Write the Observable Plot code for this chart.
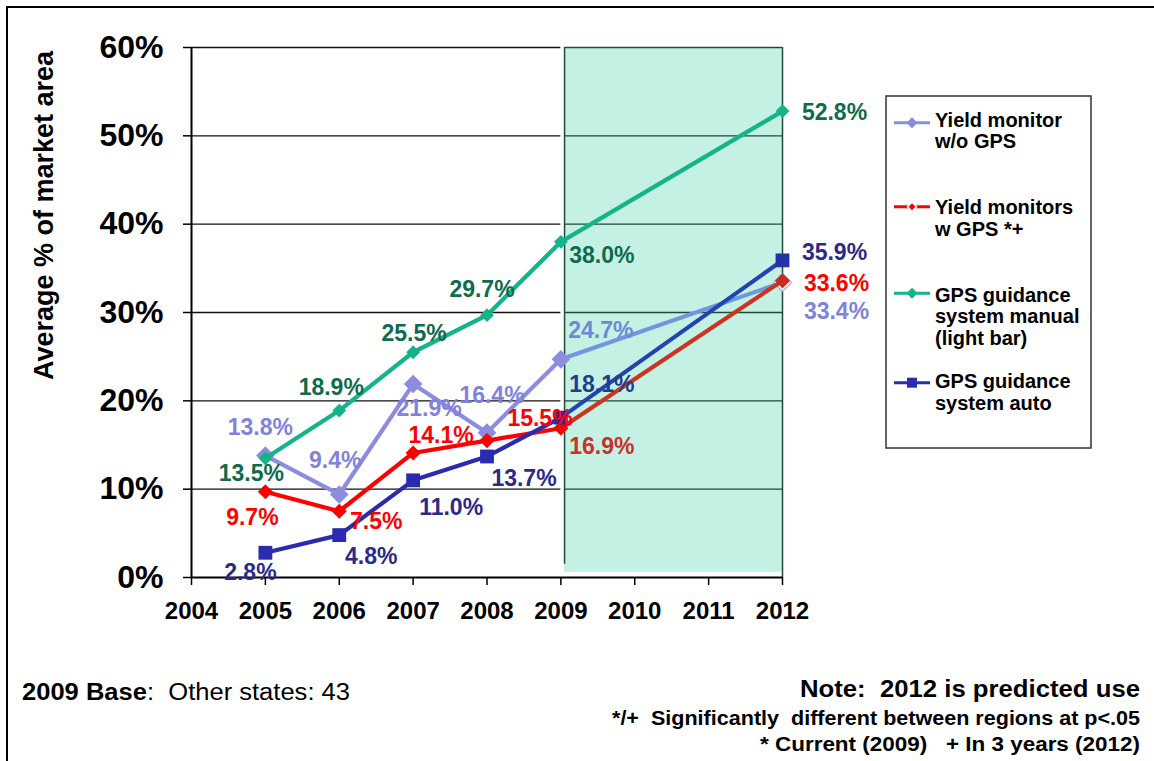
<!DOCTYPE html>
<html>
<head>
<meta charset="utf-8">
<script src="https://cdn.jsdelivr.net/npm/d3@7"></script>
<script src="https://cdn.jsdelivr.net/npm/@observablehq/plot@0.6"></script>
<style>
  html, body { margin: 0; padding: 0; background: #fff; }
  #chart { width: 1154px; height: 761px; overflow: hidden; }
  text { white-space: pre; }
</style>
</head>
<body>
<div id="chart"></div>
<script>
// ---------------- data ----------------
const years = [2005, 2006, 2007, 2008, 2009, 2012];
const xTicks = [2004, 2005, 2006, 2007, 2008, 2009, 2010, 2011, 2012];
const yTicks = [0, 10, 20, 30, 40, 50, 60];
const seriesNames = [
  "Yield monitor w/o GPS",
  "Yield monitors w GPS *+",
  "GPS guidance system manual (light bar)",
  "GPS guidance system auto"
];
const legendText = [
  ["Yield monitor", "w/o GPS"],
  ["Yield monitors", "w GPS *+"],
  ["GPS guidance", "system manual", "(light bar)"],
  ["GPS guidance", "system auto"]
];
const yieldNoGps = [13.8, 9.4, 21.9, 16.4, 24.7, 33.4];
const yieldGps   = [9.7, 7.5, 14.1, 15.5, 16.9, 33.6];
const gpsManual  = [13.5, 18.9, 25.5, 29.7, 38.0, 52.8];
const gpsAuto    = [2.8, 4.8, 11.0, 13.7, 18.1, 35.9];
const predictedStart = 2009;
const predictedEnd = 2012;
const yAxisTitle = "Average % of market area";
const footBase = ["2009 Base", ":  Other states: 43"];
const footNotes = [
  "Note:  2012 is predicted use",
  "*/+  Significantly  different between regions at p<.05",
  "* Current (2009)   + In 3 years (2012)"
];

// ---------------- styles / layout ----------------
const FONT = "'Liberation Sans', Arial, Helvetica, sans-serif";
const styles = [
  {color: "#8c8ce0", pred: "#6f97dc", endFill: "#e6e6fa", label: "#8282dc", predLabel: "#6a8cd6", symbol: "diamond2", r: 8.4,
   offsets: [[-5, -28], [-4, -34], [16, 25], [5, -37], [40, -29], [54, 29]]},
  {color: "#ff0000", pred: "#cc3322", endFill: "#cc2a1a", label: "#ff0000", predLabel: "#c83228", symbol: "diamond2", r: 6.8,
   offsets: [[-13, 26], [37, 10], [28, -17], [53, -22], [41, 18], [54, 3]]},
  {color: "#14b48a", pred: "#14b48a", endFill: "#14b48a", label: "#0e6b4e", predLabel: "#0e6b4e", symbol: "diamond2", r: 6.2,
   offsets: [[-14, 15], [-8, -23], [1, -19], [-5, -26], [41, 14], [52, 2]]},
  {color: "#2b2bb0", pred: "#2244b0", endFill: "#2233aa", label: "#2a2a8a", predLabel: "#1e3e8c", symbol: "square", r: 7.8,
   offsets: [[-15, 20], [32, 22], [38, 27], [37, 22], [41, -33], [52, -8]]}
];

const seriesValues = [yieldNoGps, yieldGps, gpsManual, gpsAuto];
const rows = seriesNames.flatMap((name, s) =>
  years.map((year, i) => ({name, s, i, year, value: seriesValues[s][i]})));

const shade = [{start: predictedStart, end: predictedEnd}];
const grid = yTicks.filter(v => v > 0);

const marks = [
  Plot.rect(shade, {x1: d => d.start + 0.05, x2: d => d.end, y1: () => 0.6, y2: () => 60, fill: "#c5f0e4"}),
  Plot.ruleY(grid, {x1: () => 2004, x2: () => predictedStart, stroke: "#111", strokeWidth: 1.3}),
  Plot.ruleY(grid, {x1: () => predictedStart + 0.05, x2: () => predictedEnd, stroke: "#1f4a3c", strokeWidth: 1.3}),
  Plot.ruleX(shade, {x: d => d.start + 0.05, y1: () => 1.5, y2: () => 60, stroke: "#1f4a3c", strokeWidth: 1.5}),
  Plot.ruleX(shade, {x: d => d.end, y1: () => 0, y2: () => 60, stroke: "#1f4a3c", strokeWidth: 1.5}),
  Plot.ruleX([2004], {y1: () => 0, y2: () => 60, stroke: "#000", strokeWidth: 2}),
  Plot.ruleY([0], {x1: () => 2004, x2: () => 2012, stroke: "#000", strokeWidth: 2}),
  Plot.axisY(yTicks, {tickSize: 8, tickPadding: 20, tickFormat: d => d + "%", fontSize: 32, fontWeight: "bold",
    label: null, strokeWidth: 1.5, fill: "#000"}),
  Plot.axisX(xTicks, {tickSize: 8, tickPadding: 16, tickFormat: d => String(d), fontSize: 24, fontWeight: "bold",
    label: null, strokeWidth: 1.5, fill: "#000"}),
  Plot.text([yAxisTitle], {frameAnchor: "left", textAnchor: "middle", rotate: -90, dx: -147, dy: -97,
    fontSize: 27, fontWeight: "bold", fill: "#000"})
];

styles.forEach((st, s) => {
  const ser = rows.filter(d => d.s === s);
  marks.push(Plot.line(ser.filter(d => d.year <= predictedStart), {x: "year", y: "value", stroke: st.color, strokeWidth: 4.2}));
  marks.push(Plot.line(ser.filter(d => d.year >= predictedStart), {x: "year", y: "value", stroke: st.pred, strokeWidth: 4.2}));
  marks.push(Plot.dot(ser.filter(d => d.year < predictedEnd), {x: "year", y: "value", symbol: st.symbol, r: st.r, fill: st.color, stroke: "none"}));
  marks.push(Plot.dot(ser.filter(d => d.year === predictedEnd), {x: "year", y: "value", symbol: st.symbol, r: st.r, fill: st.endFill,
    stroke: s === 0 ? st.color : "none", strokeWidth: 1}));
});

styles.forEach((st, s) => {
  rows.filter(d => d.s === s).forEach(d => {
    marks.push(Plot.text([d], {x: "year", y: "value", text: v => v.value.toFixed(1) + "%",
      dx: st.offsets[d.i][0], dy: st.offsets[d.i][1],
      fill: d.year === predictedStart ? st.predLabel : st.label,
      fontSize: 23, fontWeight: "bold"}));
  });
});

const chart = Plot.plot({
  width: 1154,
  height: 761,
  marginLeft: 191,
  marginRight: 372,
  marginTop: 47,
  marginBottom: 184,
  x: {domain: [2004, 2012], axis: null},
  y: {domain: [0, 60], axis: null},
  style: {fontFamily: FONT, background: "#fff", overflow: "visible"},
  marks
});

// ---------------- legend, footer, border ----------------
const svg = d3.select(chart);
const lg = svg.append("g").attr("font-family", FONT).attr("text-anchor", "start");
lg.append("rect").attr("x", 886).attr("y", 96).attr("width", 205).attr("height", 352)
  .attr("fill", "#fff").attr("stroke", "#333").attr("stroke-width", 1.5);
const sampleY = [122.7, 206.7, 293.3, 382.7];
const firstBase = [126.7, 214, 301.7, 388];
const legendR = [5.5, 4.5, 5.5, 5];
legendText.forEach((lines, s) => {
  const st = styles[s];
  const y = sampleY[s];
  lg.append("line").attr("x1", 894).attr("x2", 930).attr("y1", y).attr("y2", y)
    .attr("stroke", st.color).attr("stroke-width", 3);
  const r = legendR[s];
  if (st.symbol === "square") {
    lg.append("rect").attr("x", 912 - r).attr("y", y - r).attr("width", 2 * r).attr("height", 2 * r).attr("fill", st.color);
  } else {
    lg.append("path").attr("d", `M912,${y - r}L${912 + r},${y}L912,${y + r}L${912 - r},${y}Z`)
      .attr("fill", st.color).attr("stroke", s === 1 ? "#fff" : "none").attr("stroke-width", 1.5);
  }
  lines.forEach((t, k) => {
    lg.append("text").attr("x", 935).attr("y", firstBase[s] + k * 21.7).attr("text-anchor", "start")
      .attr("font-size", 20).attr("font-weight", "bold").attr("fill", "#000").text(t);
  });
});

const ft = svg.append("g").attr("font-family", FONT).attr("fill", "#000");
const base = ft.append("text").attr("x", 22).attr("y", 700).attr("font-size", 23).attr("text-anchor", "start")
  .attr("textLength", 328).attr("lengthAdjust", "spacingAndGlyphs");
base.append("tspan").attr("font-weight", "bold").text(footBase[0]);
base.append("tspan").text(footBase[1]);
const noteBase = [697, 725, 751];
const noteSize = [24, 20, 20];
const noteLen = [340, 528, 380];
footNotes.forEach((t, k) => {
  ft.append("text").attr("x", 1140).attr("y", noteBase[k]).attr("text-anchor", "end")
    .attr("font-size", noteSize[k]).attr("font-weight", "bold")
    .attr("textLength", noteLen[k]).attr("lengthAdjust", "spacingAndGlyphs").text(t);
});

svg.append("path").attr("d", "M7,761V7H1154").attr("fill", "none").attr("stroke", "#000").attr("stroke-width", 2);

document.getElementById("chart").appendChild(chart);
</script>
</body>
</html>
